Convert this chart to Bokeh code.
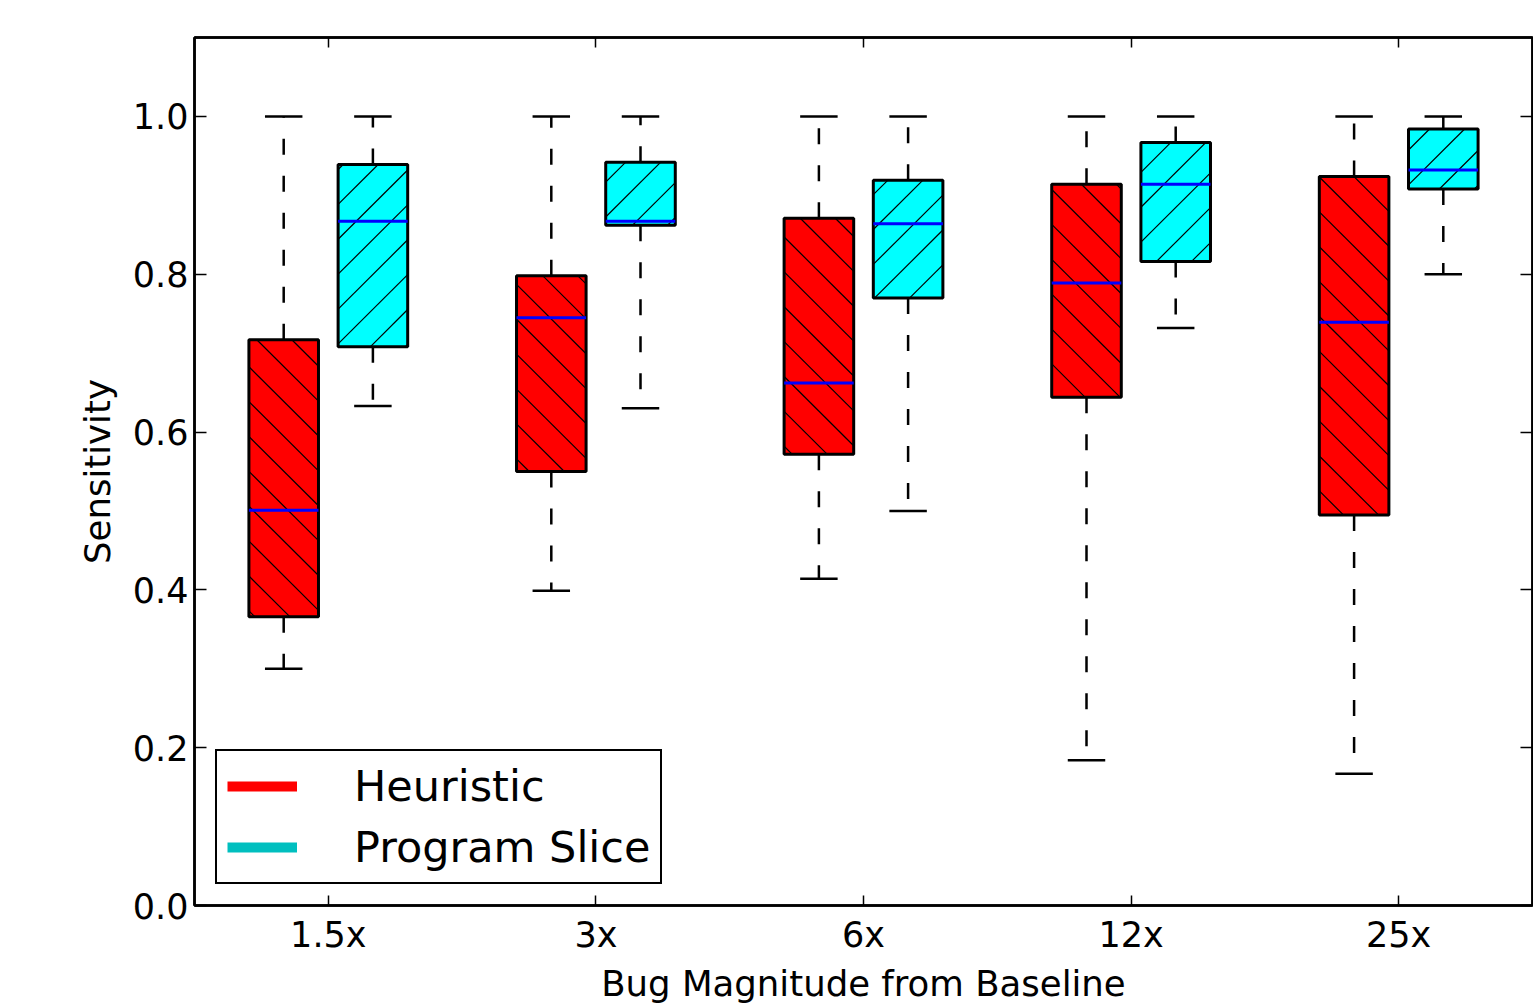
import math
from bokeh.plotting import figure
from bokeh.models import ColumnDataSource, FixedTicker, LinearAxis, Range1d, Legend, LegendItem
from bokeh.embed import file_html
from bokeh.resources import INLINE

categories = ["1.5x", "3x", "6x", "12x", "25x"]
heur_max = [1.0, 1.0, 1.0, 1.0, 1.0]
heur_q3 = [0.717, 0.798, 0.871, 0.914, 0.924]
heur_med = [0.501, 0.745, 0.662, 0.789, 0.739]
heur_q1 = [0.366, 0.550, 0.572, 0.644, 0.495]
heur_min = [0.300, 0.399, 0.414, 0.184, 0.167]
slice_max = [1.0, 1.0, 1.0, 1.0, 1.0]
slice_q3 = [0.939, 0.942, 0.919, 0.967, 0.984]
slice_med = [0.867, 0.867, 0.864, 0.914, 0.932]
slice_q1 = [0.708, 0.862, 0.770, 0.816, 0.908]
slice_min = [0.633, 0.630, 0.500, 0.732, 0.800]
y_ticks = [0.0, 0.2, 0.4, 0.6, 0.8, 1.0]

FONT = "DejaVu Sans"
n = len(categories)
x_ticks = [3 * i + 1.5 for i in range(n)]

X_MAX, Y_MAX = 15, 1.1
W, H = 1533, 1006
BL, BR, BT, BB = 194, 1, 37, 98
p = figure(width=W, height=H, x_range=Range1d(0, X_MAX), y_range=Range1d(0, Y_MAX),
           output_backend="svg", toolbar_location=None,
           min_border_left=BL, min_border_right=BR, min_border_top=BT, min_border_bottom=BB)
p.grid.visible = False
p.background_fill_color = "white"
p.border_fill_color = "white"
p.outline_line_color = "black"
p.outline_line_width = 2.5

BOX_W = 0.78
CAP_W = 0.42
# screen pixels per data unit (for 45-degree hatching)
SX = (W - BL - BR - 1) / X_MAX
SY = (H - BT - BB) / Y_MAX
HATCH_PX = 35.0


def hatch_lines(xs, q1, q3, direction):
    x0s, y0s, x1s, y1s = [], [], [], []
    for x, lo, hi in zip(xs, q1, q3):
        Xa, Xb = (x - BOX_W / 2) * SX, (x + BOX_W / 2) * SX
        Ya, Yb = lo * SY, hi * SY
        if direction == "back":   # screen "\" : Y + X = c
            cmin, cmax = Xa + Ya, Xb + Yb
        else:                     # screen "/" : Y - X = c
            cmin, cmax = Ya - Xb, Yb - Xa
        k = math.ceil(cmin / HATCH_PX)
        while k * HATCH_PX < cmax:
            c = k * HATCH_PX
            if direction == "back":
                a, b = max(Xa, c - Yb), min(Xb, c - Ya)
                if b > a:
                    x0s.append(a / SX); y0s.append((c - a) / SY)
                    x1s.append(b / SX); y1s.append((c - b) / SY)
            else:
                a, b = max(Xa, Ya - c), min(Xb, Yb - c)
                if b > a:
                    x0s.append(a / SX); y0s.append((c + a) / SY)
                    x1s.append(b / SX); y1s.append((c + b) / SY)
            k += 1
    return dict(x0=x0s, y0=y0s, x1=x1s, y1=y1s)


def draw(offset, q1, med, q3, lo, hi, fill, hatch):
    xs = [3 * i + offset for i in range(n)]
    src = ColumnDataSource(dict(x=xs, q1=q1, med=med, q3=q3, lo=lo, hi=hi,
                                cl=[x - CAP_W / 2 for x in xs], cr=[x + CAP_W / 2 for x in xs],
                                bl=[x - BOX_W / 2 for x in xs], br=[x + BOX_W / 2 for x in xs]))
    p.segment(x0="x", y0="q3", x1="x", y1="hi", source=src, line_color="black",
              line_width=2.5, line_dash="16 21")
    p.segment(x0="x", y0="q1", x1="x", y1="lo", source=src, line_color="black",
              line_width=2.5, line_dash="16 21")
    p.segment(x0="cl", y0="hi", x1="cr", y1="hi", source=src, line_color="black", line_width=2.5)
    p.segment(x0="cl", y0="lo", x1="cr", y1="lo", source=src, line_color="black", line_width=2.5)
    p.vbar(x="x", width=BOX_W, bottom="q1", top="q3", source=src, fill_color=fill,
           line_color=None)
    hs = ColumnDataSource(hatch_lines(xs, q1, q3, hatch))
    p.segment(x0="x0", y0="y0", x1="x1", y1="y1", source=hs, line_color="black", line_width=1.2)
    p.vbar(x="x", width=BOX_W, bottom="q1", top="q3", source=src, fill_color=None,
           line_color="black", line_width=3)
    p.segment(x0="bl", y0="med", x1="br", y1="med", source=src, line_color="#0000FF", line_width=3)


draw(1, heur_q1, heur_med, heur_q3, heur_min, heur_max, "#FF0000", "back")
draw(2, slice_q1, slice_med, slice_q3, slice_min, slice_max, "#00FFFF", "fwd")

p.xaxis.ticker = FixedTicker(ticks=x_ticks)
p.xaxis.major_label_overrides = {t: c for t, c in zip(x_ticks, categories)}
p.yaxis.ticker = FixedTicker(ticks=y_ticks)
p.yaxis.major_label_overrides = {t: f"{t:.1f}" for t in y_ticks}
p.xaxis.axis_label = "Bug Magnitude from Baseline"
p.yaxis.axis_label = "Sensitivity"
for ax in (p.xaxis[0], p.yaxis[0]):
    ax.axis_line_color = "black"
    ax.axis_line_width = 2.5
    ax.major_tick_line_width = 1.5
    ax.major_tick_out = 0
    ax.minor_tick_line_color = None
    ax.major_label_text_font = FONT
    ax.major_label_text_font_size = "35px"
    ax.major_label_text_color = "black"
    ax.axis_label_text_font = FONT
    ax.axis_label_text_font_size = "35.5px"
    ax.axis_label_text_font_style = "normal"
    ax.axis_label_text_color = "black"
p.xaxis.major_tick_in = 10
p.yaxis.major_tick_in = 12
p.xaxis.major_label_standoff = 9
p.xaxis.axis_label_standoff = 5
p.yaxis.major_label_standoff = 6
p.yaxis.axis_label_standoff = 12

top = LinearAxis(ticker=FixedTicker(ticks=x_ticks), major_label_text_font_size="0px",
                 major_tick_in=10, major_tick_out=0, minor_tick_line_color=None,
                 axis_line_color="black", axis_line_width=2.5, major_tick_line_width=1.5,
                 major_label_standoff=0)
right = LinearAxis(ticker=FixedTicker(ticks=y_ticks), major_label_text_font_size="0px",
                   major_tick_in=12, major_tick_out=0, minor_tick_line_color=None,
                   axis_line_color="black", axis_line_width=2.5, major_tick_line_width=1.5,
                   major_label_standoff=0)
p.add_layout(top, "above")
p.add_layout(right, "right")

nan = float("nan")
lh = p.line(x=[nan, nan], y=[nan, nan], line_color="#FF0000", line_width=10)
ls = p.line(x=[nan, nan], y=[nan, nan], line_color="#00BFBF", line_width=10)
legend = Legend(items=[LegendItem(label="Heuristic", renderers=[lh]),
                       LegendItem(label="Program Slice", renderers=[ls])],
                location=(21, 21), label_text_font=FONT, label_text_font_size="43px",
                label_text_color="black", glyph_width=70, glyph_height=40,
                label_standoff=57, spacing=11, padding=10, margin=0,
                border_line_color="black", border_line_width=2.5, border_line_alpha=1.0,
                background_fill_color="white", background_fill_alpha=1.0)
p.add_layout(legend, "center")

open("out.html", "w").write(file_html(p, INLINE))
